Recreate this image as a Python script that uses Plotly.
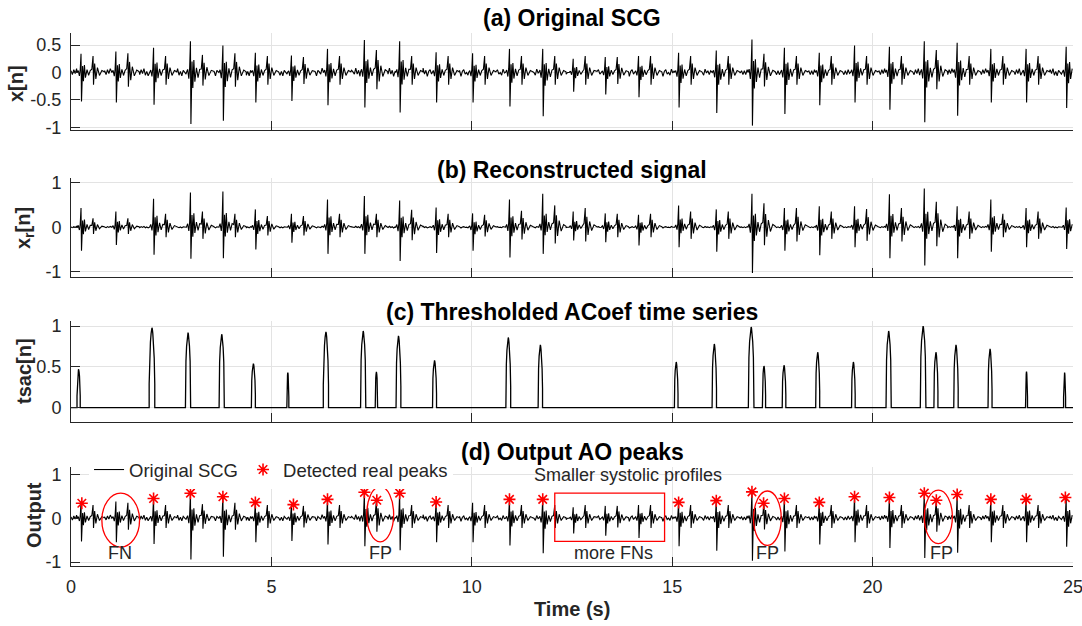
import plotly.graph_objects as go

# ---------------- data ----------------
# heart-beat (AO) times in seconds and per-beat amplitudes
beat_t = [0.25, 1.12, 2.06, 2.98, 3.79, 4.60, 5.50, 6.40, 7.32, 8.20, 9.11, 10.02,
          10.94, 11.77, 12.53, 13.33, 14.16, 15.16, 16.10, 16.99, 17.80, 18.67,
          19.55, 20.42, 21.29, 22.11, 22.95, 23.83, 24.83]
a_up = [0.34, 0.38, 0.45, 0.57, 0.49, 0.36, 0.31, 0.43, 0.59, 0.57, 0.37, 0.35,
        0.43, 0.43, 0.25, 0.28, 0.30, 0.36, 0.40, 0.60, 0.45, 0.36, 0.49, 0.47,
        0.57, 0.54, 0.43, 0.43, 0.47]
a_down = [-0.53, -0.55, -0.59, -0.94, -0.88, -0.55, -0.52, -0.60, -0.64, -0.73,
          -0.55, -0.55, -0.62, -0.80, -0.35, -0.40, -0.45, -0.64, -0.74, -0.97,
          -0.76, -0.60, -0.55, -0.68, -0.91, -0.79, -0.55, -0.55, -0.65]
a_sec = [0.30, 0.35, 0.30, 0.32, 0.35, 0.30, 0.28, 0.30, 0.41, 0.30, 0.30, 0.30,
         0.30, 0.30, 0.30, 0.28, 0.30, 0.30, 0.30, 0.34, 0.30, 0.30, 0.30, 0.30,
         0.41, 0.30, 0.30, 0.30, 0.30]
b_up = [0.43, 0.35, 0.64, 0.78, 0.80, 0.40, 0.30, 0.62, 0.70, 0.60, 0.44, 0.31,
        0.62, 0.75, 0.35, 0.31, 0.28, 0.49, 0.40, 0.75, 0.43, 0.47, 0.47, 0.74,
        0.87, 0.47, 0.62, 0.43, 0.44]
b_down = [-0.53, -0.40, -0.62, -0.71, -0.70, -0.50, -0.35, -0.60, -0.60, -0.76,
          -0.58, -0.53, -0.68, -0.60, -0.30, -0.34, -0.41, -0.45, -0.55, -1.03,
          -0.53, -0.63, -0.45, -0.70, -0.86, -0.70, -0.55, -0.45, -0.49]
b_sec = [0.20, 0.20, 0.30, 0.35, 0.30, 0.25, 0.25, 0.30, 0.30, 0.39, 0.30, 0.28,
         0.37, 0.49, 0.43, 0.30, 0.30, 0.35, 0.35, 0.54, 0.43, 0.35, 0.41, 0.43,
         0.57, 0.35, 0.30, 0.35, 0.30]

# one heart-beat waveform shape (offset s, normalized AO part, normalized AC part)
tmpl_off = [-0.10, -0.07, -0.04, -0.02, 0.00, 0.012, 0.04, 0.06, 0.085, 0.11,
            0.15, 0.19, 0.23, 0.27, 0.30, 0.312, 0.34, 0.37, 0.41, 0.46, 0.52, 0.58]
tmpl_main = [0.0, 0.10, -0.12, 0.15, 1.0, -1.0, 0.35, -0.30, 0.40, -0.18,
             0.15, -0.10, 0.10, 0, 0, 0, 0, 0, 0, 0, 0, 0]
tmpl_sec = [0, 0, 0, 0, 0, 0, 0, 0, 0, 0, 0, 0, 0, 0.2, 1.0, -0.75, 0.55, -0.4,
            0.3, -0.18, 0.12, 0.04]
# baseline wiggle between beats
noise_vals = [0.03, -0.04, 0.05, -0.02, 0.07, -0.05, 0.02, -0.06, 0.04, 0.01,
              -0.03, 0.08, -0.03, 0.04, -0.07, 0.02, 0.05, -0.03, 0.0, -0.05,
              0.06, -0.01, 0.03, -0.04]

# thresholded ACoef peaks (time, height, base width)
tsac_t = [0.19, 2.02, 2.92, 3.76, 4.55, 5.41, 6.36, 7.29, 7.62, 8.17, 9.07, 10.91,
          11.71, 15.10, 16.05, 16.97, 17.29, 17.79, 18.63, 19.52, 20.40, 21.26,
          21.58, 22.08, 22.93, 23.84, 24.79]
tsac_h = [0.47, 0.98, 0.92, 0.90, 0.54, 0.43, 0.93, 0.94, 0.44, 0.88, 0.58, 0.86,
          0.77, 0.56, 0.78, 0.99, 0.51, 0.52, 0.68, 0.56, 0.94, 1.00, 0.68, 0.77,
          0.72, 0.44, 0.43]
tsac_w = [0.08, 0.14, 0.13, 0.13, 0.10, 0.05, 0.13, 0.13, 0.06, 0.12, 0.10, 0.12,
          0.11, 0.09, 0.11, 0.14, 0.08, 0.09, 0.10, 0.09, 0.13, 0.14, 0.10, 0.11,
          0.10, 0.05, 0.05]
hump_u = [-1, -1, -0.8, -0.55, -0.3, -0.12, 0, 0.12, 0.3, 0.55, 0.8, 1, 1]
hump_v = [0, 0.3, 0.62, 0.82, 0.93, 0.985, 1, 0.985, 0.93, 0.82, 0.62, 0.3, 0]

# detected peaks in panel d
star_t = [0.27, 2.06, 2.98, 3.79, 4.60, 5.55, 6.40, 7.32, 7.63, 8.20, 9.11, 10.94,
          11.77, 15.16, 16.10, 16.99, 17.28, 17.80, 18.67, 19.55, 20.42, 21.29,
          21.59, 22.11, 22.95, 23.83, 24.81]
star_v = [0.34, 0.45, 0.57, 0.49, 0.36, 0.31, 0.43, 0.59, 0.41, 0.57, 0.37, 0.43,
          0.43, 0.36, 0.40, 0.60, 0.34, 0.45, 0.36, 0.49, 0.47, 0.57, 0.41, 0.54,
          0.43, 0.43, 0.47]

# annotation marks in panel d
ellipse_x = [(0.77, 1.71), (7.38, 8.05), (17.03, 17.72), (21.29, 21.99)]
ellipse_y = [(-0.66, 0.57), (-0.54, 0.72), (-0.62, 0.62), (-0.58, 0.64)]
box_x = (12.07, 14.81)
box_y = (-0.53, 0.57)
label_text = ["FN", "FP", "more FNs", "FP", "FP"]
label_t = [1.21, 7.72, 13.53, 17.39, 21.73]

titles = ["(a) Original SCG", "(b) Reconstructed signal",
          "(c) Thresholded ACoef time series", "(d) Output AO peaks"]
ylabels = ["x[n]", "x<sub>r</sub>[n]", "tsac[n]", "Output"]
xticks = [0, 5, 10, 15, 20, 25]


def build(up, down, sec, nscale):
    pts = []
    for i, t0 in enumerate(beat_t):
        for off, m, s in zip(tmpl_off, tmpl_main, tmpl_sec):
            v = up[i] * max(m, 0) + abs(down[i]) * min(m, 0) + sec[i] * s
            pts.append((t0 + off, v))
    j = 0
    g = 0.0
    while g <= 25.0:
        inside = any(t0 - 0.105 <= g <= t0 + 0.585 for t0 in beat_t)
        if not inside:
            pts.append((g, noise_vals[j % len(noise_vals)] * nscale))
        j += 1
        g += 0.035
    pts = sorted(p for p in pts if 0 <= p[0] <= 25)
    return [p[0] for p in pts], [p[1] for p in pts]


xa, ya = build(a_up, a_down, a_sec, 1.0)
xb, yb = build(b_up, b_down, b_sec, 0.25)

xc, yc = [0.0], [0.0]
for t0, h, w in zip(tsac_t, tsac_h, tsac_w):
    for u, v in zip(hump_u, hump_v):
        xc.append(t0 + u * w / 2)
        yc.append(h * v)
xc.append(25.0)
yc.append(0.0)

FONT = "Liberation Sans, Arial, Helvetica, sans-serif"
DARK = "#262626"
GRID = "#e3e3e3"
LW = 1.1

fig = go.Figure()
fig.add_trace(go.Scatter(x=xa, y=ya, mode="lines", line=dict(color="black", width=LW),
                         xaxis="x", yaxis="y", showlegend=False))
fig.add_trace(go.Scatter(x=xb, y=yb, mode="lines", line=dict(color="black", width=LW),
                         xaxis="x2", yaxis="y2", showlegend=False))
fig.add_trace(go.Scatter(x=xc, y=yc, mode="lines", line=dict(color="black", width=1.3),
                         xaxis="x3", yaxis="y3", showlegend=False))
fig.add_trace(go.Scatter(x=xa, y=ya, mode="lines", line=dict(color="black", width=LW),
                         xaxis="x4", yaxis="y4", name="Original SCG"))
fig.add_trace(go.Scatter(x=star_t, y=star_v, mode="markers", name="Detected real peaks",
                         marker=dict(symbol="asterisk-open", size=10, color="red",
                                     line=dict(color="red", width=1.6)),
                         xaxis="x4", yaxis="y4"))

H = 626.0
def py(px):
    return 1 - px / H

domains = [(130, 33), (277, 178), (422, 321), (566, 467)]
yranges = [(-1.05, 0.72), (-1.12, 1.106), (-0.177, 1.063), (-1.09, 1.167)]
ytickv = [[-1, -0.5, 0, 0.5], [-1, 0, 1], [0, 0.5, 1], [-1, 0, 1]]
ytickt = [["-1", "-0.5", "0", "0.5"], ["-1", "0", "1"], ["0", "0.5", "1"], ["-1", "0", "1"]]

layout = dict(
    width=1082, height=626,
    margin=dict(l=71, r=9, t=0, b=0),
    paper_bgcolor="white", plot_bgcolor="white",
    font=dict(family=FONT, size=18, color=DARK),
    showlegend=True,
    legend=dict(orientation="h", x=0.018, y=py(470), xanchor="left", yanchor="middle",
                bgcolor="white", borderwidth=0, font=dict(size=18.5, color=DARK)),
)
for k in range(4):
    sx = "" if k == 0 else str(k + 1)
    layout["xaxis" + sx] = dict(
        domain=[0, 1], range=[0, 25], anchor="y" + sx, tickvals=xticks,
        ticktext=[str(v) for v in xticks], showticklabels=(k == 3),
        ticks="inside", ticklen=9, tickcolor=DARK, showline=True, linecolor=DARK,
        linewidth=1, showgrid=True, gridcolor=GRID, zeroline=False, automargin=False,
        ticklabeloverflow="allow",
        tickfont=dict(size=18, color=DARK), ticklabelstandoff=4)
    layout["yaxis" + sx] = dict(
        domain=[py(domains[k][0]), py(domains[k][1])], range=list(yranges[k]),
        anchor="x" + sx, tickvals=ytickv[k], ticktext=ytickt[k],
        ticks="inside", ticklen=9, tickcolor=DARK, showline=True, linecolor=DARK,
        linewidth=1, showgrid=True, gridcolor=GRID, zeroline=False, automargin=False,
        ticklabeloverflow="allow",
        tickfont=dict(size=18, color=DARK), ticklabelstandoff=5)

annotations = []
title_y = [18, 170, 312, 452]
for k in range(4):
    annotations.append(dict(text="<b>%s</b>" % titles[k], xref="paper", yref="paper",
                            x=0.5, y=py(title_y[k]), xanchor="center", yanchor="middle",
                            showarrow=False, font=dict(size=23, color="black")))
ylab_x = [16, 24, 24, 34]
ylab_y = [84, 228, 371, 515]
for k in range(4):
    annotations.append(dict(text="<b>%s</b>" % ylabels[k], xref="paper", yref="paper",
                            x=(ylab_x[k] - 71) / 1002.0, y=py(ylab_y[k]),
                            xanchor="center", yanchor="middle", textangle=-90,
                            showarrow=False, font=dict(size=20, color=DARK)))
annotations.append(dict(text="<b>Time (s)</b>", xref="paper", yref="paper", x=0.5,
                        y=py(609), xanchor="center", yanchor="middle", showarrow=False,
                        font=dict(size=20, color=DARK)))
for txt, t in zip(label_text, label_t):
    annotations.append(dict(text=txt, xref="x4", yref="y4", x=t, y=-0.79,
                            xanchor="center", yanchor="middle", showarrow=False,
                            font=dict(size=18, color=DARK)))
annotations.append(dict(text="Smaller systolic profiles", xref="x4", yref="y4",
                        x=13.89, y=0.98, xanchor="center", yanchor="middle",
                        showarrow=False, font=dict(size=18, color=DARK)))
layout["annotations"] = annotations

shapes = []
for (x0, x1), (y0, y1) in zip(ellipse_x, ellipse_y):
    shapes.append(dict(type="circle", xref="x4", yref="y4", x0=x0, x1=x1, y0=y0, y1=y1,
                       line=dict(color="red", width=1.3)))
shapes.append(dict(type="rect", xref="x4", yref="y4", x0=box_x[0], x1=box_x[1],
                   y0=box_y[0], y1=box_y[1], line=dict(color="red", width=1.3)))
layout["shapes"] = shapes

fig.update_layout(**layout)
fig.write_html("out.html", config={"displayModeBar": False},
               post_script="document.body.style.margin='0';"
                           "document.documentElement.style.overflow='hidden';")
